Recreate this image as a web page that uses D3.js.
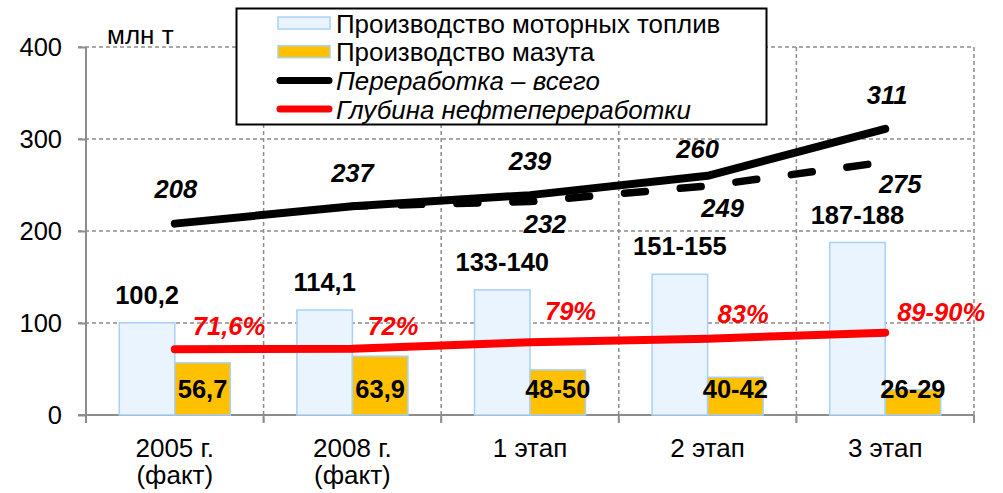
<!DOCTYPE html>
<html>
<head>
<meta charset="utf-8">
<script src="https://cdn.jsdelivr.net/npm/d3@7"></script>
<style>
  body { margin: 0; background: #fff; }
  svg { display: block; font-family: Arial, "Liberation Sans", sans-serif; }
</style>
</head>
<body>
<svg id="chart" width="1003" height="493"></svg>
<script>
// categories and series
let categories = ["2005 г.|(факт)", "2008 г.|(факт)", "1 этап", "2 этап", "3 этап"],
    motor = [100.2, 114.1, 136, 153, 187.5],
    motorLabels = ["100,2", "114,1", "133-140", "151-155", "187-188"],
    mazut = [56.7, 63.9, 49, 41, 27.5],
    mazutLabels = ["56,7", "63,9", "48-50", "40-42", "26-29"],
    total = [208, 227, 239, 260, 311],
    totalLabels = ["208", "237", "239", "260", "311"],
    totalAlt = [null, 227, 232, 249, 275],
    totalAltLabels = [null, null, "232", "249", "275"],
    depth = [71.6, 72, 79, 83, 89.5],
    depthLabels = ["71,6%", "72%", "79%", "83%", "89-90%"],
    yTicks = [0, 100, 200, 300, 400];

// small label nudges [dx, dy] relative to the point
let totalNudge = [[1, -26], [0, -24], [0, -25], [-10, -18], [2, -25]],
    depthNudge = [[18, -14], [15, -14], [15, -22], [10, -16], [12, -12]];

let svg = d3.select("#chart"),
    plotLeft = 86, plotRight = 974, plotTop = 47, plotBottom = 415;

let x = d3.scaleBand().domain(categories).range([plotLeft, plotRight]).padding(0),
    sub = d3.scaleBand().domain(["motor", "mazut"]).range([0, x.bandwidth()])
      .paddingInner(0).paddingOuter(0.6),
    y = d3.scaleLinear().domain([0, 400]).range([plotBottom, plotTop]),
    cx = c => x(c) + x.bandwidth() / 2;

let grey = "#8c8c8c";

// horizontal gridlines
svg.append("g").selectAll("line")
  .data(yTicks.filter(d => d > 0)).enter()
  .append("line")
  .attr("x1", plotLeft - 8).attr("x2", plotRight)
  .attr("y1", d => y(d)).attr("y2", d => y(d))
  .attr("stroke", grey).attr("stroke-width", 1.5)
  .attr("stroke-dasharray", "4,3")

// vertical gridlines at category boundaries
svg.append("g").selectAll("line")
  .data(categories).enter()
  .append("line")
  .attr("x1", d => x(d) + x.bandwidth()).attr("x2", d => x(d) + x.bandwidth())
  .attr("y1", plotTop).attr("y2", plotBottom + 8)
  .attr("stroke", grey).attr("stroke-width", 1.5)
  .attr("stroke-dasharray", "4,3")

// y axis
let yAxis = svg.append("g")
  .attr("transform", `translate(${plotLeft},0)`)
  .call(d3.axisLeft(y).tickValues(yTicks).tickSize(8).tickPadding(16))
yAxis.select(".domain").remove()
yAxis.selectAll(".tick line").attr("stroke", grey).attr("stroke-width", 2)
yAxis.selectAll("text").attr("font-size", 25.5).attr("fill", "#000")
  .attr("font-family", "Arial, 'Liberation Sans', sans-serif")
svg.append("line")
  .attr("x1", plotLeft).attr("x2", plotLeft).attr("y1", plotTop).attr("y2", plotBottom + 8)
  .attr("stroke", grey).attr("stroke-width", 2)

// x axis line
svg.append("line")
  .attr("x1", plotLeft - 8).attr("x2", plotRight).attr("y1", plotBottom).attr("y2", plotBottom)
  .attr("stroke", grey).attr("stroke-width", 2)
svg.append("g").selectAll("line")
  .data(categories).enter()
  .append("line")
  .attr("x1", d => x(d) + x.bandwidth()).attr("x2", d => x(d) + x.bandwidth())
  .attr("y1", plotBottom).attr("y2", plotBottom + 8)
  .attr("stroke", grey).attr("stroke-width", 2)

// category labels
let catText = svg.append("g").selectAll("text")
  .data(categories).enter()
  .append("text")
  .attr("x", d => cx(d))
  .attr("y", 457)
  .attr("text-anchor", "middle")
  .attr("font-size", 26)
catText.selectAll("tspan")
  .data(d => d.split("|").map(t => ({t: t, c: d}))).enter()
  .append("tspan")
  .attr("x", d => cx(d.c))
  .attr("dy", (d, i) => i ? 27 : 0)
  .text(d => d.t)

// unit label
svg.append("text").attr("x", 107).attr("y", 44)
  .attr("font-size", 26).text("млн т")

// bars
let barStroke = "#a9d0f5";
svg.append("g").selectAll("rect")
  .data(motor).enter()
  .append("rect")
  .attr("x", (d, i) => x(categories[i]) + sub("motor"))
  .attr("y", d => y(d))
  .attr("width", sub.bandwidth())
  .attr("height", d => y(0) - y(d))
  .attr("fill", "#eaf4fe").attr("stroke", barStroke).attr("stroke-width", 1.5)

svg.append("g").selectAll("rect")
  .data(mazut).enter()
  .append("rect")
  .attr("x", (d, i) => x(categories[i]) + sub("mazut"))
  .attr("y", d => y(d))
  .attr("width", sub.bandwidth())
  .attr("height", d => y(0) - y(d))
  .attr("fill", "#ffc000").attr("stroke", barStroke).attr("stroke-width", 1.5)

// lines
let line = d3.line()
  .defined(d => d.v != null)
  .x(d => cx(d.c))
  .y(d => y(d.v))

let pts = arr => arr.map((v, i) => ({v: v, c: categories[i]}))

svg.append("path")
  .attr("d", line(pts(depth)))
  .attr("fill", "none").attr("stroke", "#ff0000").attr("stroke-width", 8)
  .attr("stroke-linecap", "round").attr("stroke-linejoin", "round")

svg.append("path")
  .attr("d", line(pts(totalAlt)))
  .attr("fill", "none").attr("stroke", "#000").attr("stroke-width", 7.5)
  .attr("stroke-linecap", "round").attr("stroke-dasharray", "21,35")
  .attr("stroke-dashoffset", 7.5)

svg.append("path")
  .attr("d", line(pts(total)))
  .attr("fill", "none").attr("stroke", "#000").attr("stroke-width", 8)
  .attr("stroke-linecap", "round").attr("stroke-linejoin", "round")

// value labels
let bold = sel => sel.attr("font-size", 25.5).attr("font-weight", "bold")

svg.append("g").selectAll("text")
  .data(motor).enter()
  .append("text")
  .attr("x", (d, i) => x(categories[i]) + sub("motor") + sub.bandwidth() / 2)
  .attr("y", d => y(d) - 19)
  .attr("text-anchor", "middle")
  .call(bold)
  .text((d, i) => motorLabels[i])

svg.append("g").selectAll("text")
  .data(mazut).enter()
  .append("text")
  .attr("x", (d, i) => x(categories[i]) + sub("mazut") + sub.bandwidth() / 2)
  .attr("y", y(0) - 17)
  .attr("text-anchor", "middle")
  .call(bold)
  .text((d, i) => mazutLabels[i])

svg.append("g").selectAll("text")
  .data(total).enter()
  .append("text")
  .attr("x", (d, i) => cx(categories[i]) + totalNudge[i][0])
  .attr("y", (d, i) => y(d) + totalNudge[i][1])
  .attr("text-anchor", "middle").attr("font-style", "italic")
  .call(bold)
  .text((d, i) => totalLabels[i])

svg.append("g").selectAll("text")
  .data(totalAlt.map((v, i) => ({v: v, i: i})).filter(d => totalAltLabels[d.i])).enter()
  .append("text")
  .attr("x", d => cx(categories[d.i]) + 15)
  .attr("y", d => y(d.v) + 31)
  .attr("text-anchor", "middle").attr("font-style", "italic")
  .call(bold)
  .text(d => totalAltLabels[d.i])

svg.append("g").selectAll("text")
  .data(depth).enter()
  .append("text")
  .attr("x", (d, i) => cx(categories[i]) + depthNudge[i][0])
  .attr("y", (d, i) => y(d) + depthNudge[i][1])
  .attr("font-style", "italic").attr("fill", "#ff0000")
  .call(bold)
  .text((d, i) => depthLabels[i])

// legend
let legendItems = [
  {name: "Производство моторных топлив", type: "bar", fill: "#eaf4fe"},
  {name: "Производство мазута", type: "bar", fill: "#ffc000"},
  {name: "Переработка – всего", type: "line", stroke: "#000"},
  {name: "Глубина нефтепереработки", type: "line", stroke: "#ff0000"}
]
let legend = svg.append("g")
legend.append("rect")
  .attr("x", 236.5).attr("y", 8.5).attr("width", 530).attr("height", 116)
  .attr("fill", "#fff").attr("stroke", "#000").attr("stroke-width", 2)

let row = legend.selectAll("g.row")
  .data(legendItems).enter()
  .append("g")
  .attr("transform", (d, i) => `translate(0,${23 + i * 28.7})`)

row.filter(d => d.type == "bar").append("rect")
  .attr("x", 278).attr("y", -6).attr("width", 52).attr("height", 12)
  .attr("fill", d => d.fill).attr("stroke", barStroke).attr("stroke-width", 1.5)
row.filter(d => d.type == "line").append("line")
  .attr("x1", 280).attr("x2", 329).attr("y1", 0).attr("y2", 0)
  .attr("stroke", d => d.stroke).attr("stroke-width", 7).attr("stroke-linecap", "round")
row.append("text")
  .attr("x", 336).attr("y", 9.5)
  .attr("font-size", 25.9)
  .attr("font-style", d => d.type == "line" ? "italic" : null)
  .text(d => d.name)
</script>
</body>
</html>
